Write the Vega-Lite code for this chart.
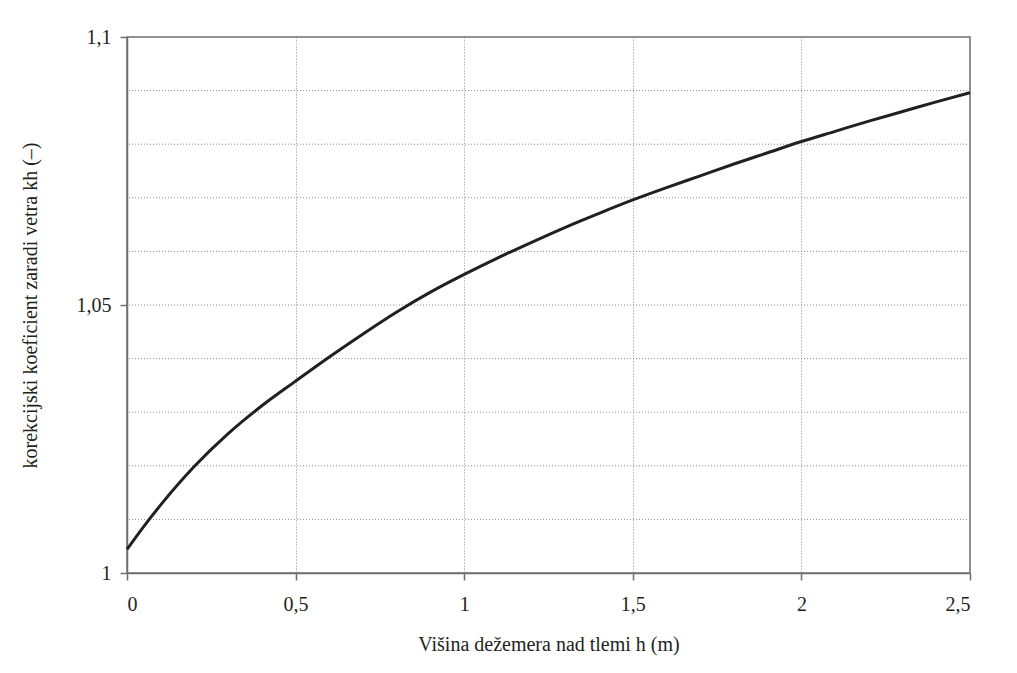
{
  "$schema": "https://vega.github.io/schema/vega-lite/v6.json",
  "autosize": "none",
  "width": 843,
  "height": 536,
  "padding": {"left": 127, "top": 37, "right": 47, "bottom": 100},
  "background": "white",
  "config": {
    "font": "Liberation Serif",
    "view": {"stroke": "#6f6f6f", "strokeWidth": 1.5},
    "axis": {
      "labelFont": "Liberation Serif",
      "titleFont": "Liberation Serif",
      "labelFontSize": 20,
      "titleFontSize": 20,
      "labelColor": "#231f20",
      "titleColor": "#231f20",
      "titleFontWeight": "normal",
      "domainColor": "#6f6f6f",
      "domainWidth": 1.5,
      "tickColor": "#6f6f6f",
      "tickWidth": 1.5,
      "tickSize": 7
    }
  },
  "datasets": {
    "curve": [
      {"h": 0, "k": 1.0044},
      {"h": 0.05, "k": 1.0087},
      {"h": 0.1, "k": 1.0127},
      {"h": 0.2, "k": 1.0199},
      {"h": 0.3, "k": 1.0260},
      {"h": 0.4, "k": 1.0312},
      {"h": 0.5, "k": 1.0358},
      {"h": 0.6, "k": 1.0403},
      {"h": 0.7, "k": 1.0446},
      {"h": 0.8, "k": 1.0487},
      {"h": 0.9, "k": 1.0524},
      {"h": 1.0, "k": 1.0557},
      {"h": 1.1, "k": 1.0588},
      {"h": 1.2, "k": 1.0617},
      {"h": 1.3, "k": 1.0645},
      {"h": 1.4, "k": 1.0671},
      {"h": 1.5, "k": 1.0696},
      {"h": 1.6, "k": 1.0719},
      {"h": 1.7, "k": 1.0741},
      {"h": 1.8, "k": 1.0763},
      {"h": 1.9, "k": 1.0784},
      {"h": 2.0, "k": 1.0805},
      {"h": 2.1, "k": 1.0824},
      {"h": 2.2, "k": 1.0843},
      {"h": 2.3, "k": 1.0861},
      {"h": 2.4, "k": 1.0879},
      {"h": 2.5, "k": 1.0896}
    ],
    "grid": [
      {"g": 1.01}, {"g": 1.02}, {"g": 1.03}, {"g": 1.04}, {"g": 1.05},
      {"g": 1.06}, {"g": 1.07}, {"g": 1.08}, {"g": 1.09}
    ]
  },
  "layer": [
    {
      "data": {"name": "grid"},
      "mark": {"type": "rule", "color": "#8a8a8a", "strokeDash": [1, 2], "strokeWidth": 1},
      "encoding": {
        "y": {"field": "g", "type": "quantitative"}
      }
    },
    {
      "data": {"name": "curve"},
      "mark": {"type": "line", "color": "#231f20", "strokeWidth": 3, "interpolate": "monotone"},
      "encoding": {
        "x": {
          "field": "h",
          "type": "quantitative",
          "scale": {"domain": [0, 2.5], "nice": false, "zero": false},
          "axis": {
            "values": [0, 0.5, 1, 1.5, 2, 2.5],
            "labelExpr": "replace(format(datum.value, '~g'), '.', ',')",
            "grid": true,
            "gridColor": "#8a8a8a",
            "gridDash": [1, 2],
            "gridWidth": 1,
            "labelPadding": 14,
            "title": "Višina dežemera nad tlemi h (m)",
            "titleY": 61,
            "titleBaseline": "top"
          }
        },
        "y": {
          "field": "k",
          "type": "quantitative",
          "scale": {"domain": [1, 1.1], "nice": false, "zero": false},
          "axis": {
            "values": [1, 1.05, 1.1],
            "labelExpr": "replace(format(datum.value, '~g'), '.', ',')",
            "grid": false,
            "labelPadding": 9,
            "title": "korekcijski koeficient zaradi vetra kh (–)",
            "titleX": -97,
            "titleY": 268,
            "titleAngle": -90,
            "titleAlign": "center",
            "titleBaseline": "middle"
          }
        }
      }
    }
  ]
}
